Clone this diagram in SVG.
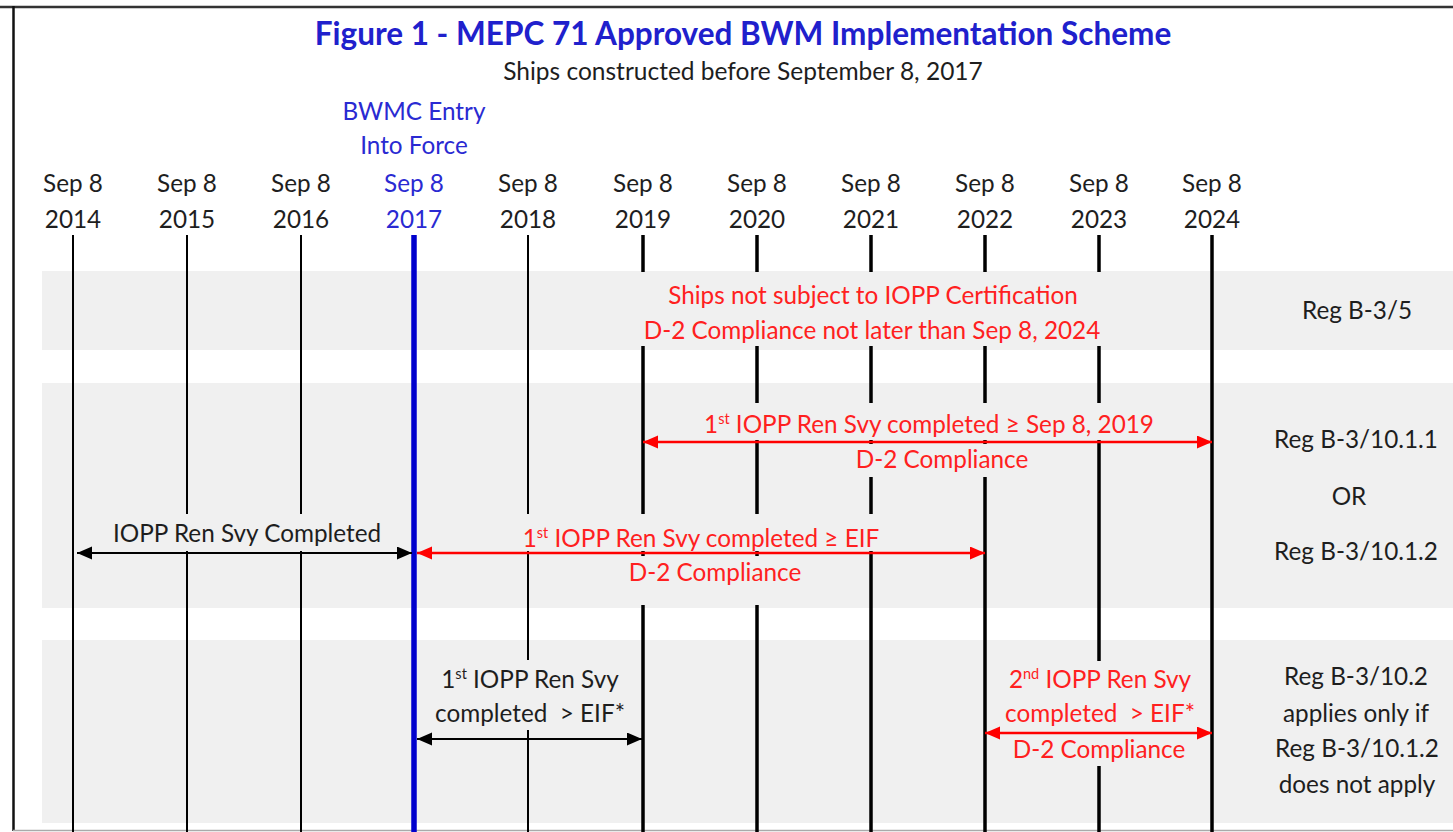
<svg xmlns="http://www.w3.org/2000/svg" width="1453" height="832" viewBox="0 0 1453 832">
  <style>
    text { font-family: Lato, "Liberation Sans", sans-serif; font-size: 24.3px; fill: #1e1e1e; text-anchor: middle; }
    .title { font-size: 31.5px; font-weight: bold; fill: #2020cc; }
    .sub { font-size: 24.5px; }
    .blue { fill: #2a2ad2; }
    .red { fill: #ff2020; }
    .sup { font-size: 14.5px; }
    .band { fill: #f0f0f0; }
    .mask { fill: #f0f0f0; }
    .yr { stroke: #000; stroke-width: 2; }
    .yrb { stroke: #000; stroke-width: 3.5; }
    .eif { stroke: #0000cd; stroke-width: 5.5; }
    .arr-k { stroke: #000; stroke-width: 2.2; fill: none; marker-start: url(#headK); marker-end: url(#headK); }
    .arr-r { stroke: #ff0000; stroke-width: 2.6; fill: none; marker-start: url(#headR); marker-end: url(#headR); }
  </style>
  <defs>
    <marker id="headK" markerUnits="userSpaceOnUse" markerWidth="16" markerHeight="14" refX="15" refY="6.5" orient="auto-start-reverse">
      <path d="M0,0 L15,6.5 L0,13 z" fill="#000"/>
    </marker>
    <marker id="headR" markerUnits="userSpaceOnUse" markerWidth="16" markerHeight="14" refX="15" refY="6.5" orient="auto-start-reverse">
      <path d="M0,0 L15,6.5 L0,13 z" fill="#ff0000"/>
    </marker>
  </defs>

  <rect width="1453" height="832" fill="#fff"/>

  <!-- frame -->
  <g id="frame">
    <line x1="0" y1="7" x2="1453" y2="7" stroke="#333" stroke-width="2.5"/>
    <line x1="13.5" y1="6" x2="13.5" y2="831" stroke="#111" stroke-width="2.5"/>
    <line x1="13" y1="830.5" x2="1453" y2="830.5" stroke="#aaa" stroke-width="1.5"/>
  </g>

  <!-- title -->
  <g id="title">
    <text class="title" x="743" y="45">Figure 1 - MEPC 71 Approved BWM Implementation Scheme</text>
    <text class="sub" x="743" y="80">Ships constructed before September 8, 2017</text>
  </g>

  <!-- shaded regulation bands -->
  <g id="bands">
    <rect class="band" x="42" y="271" width="1411" height="79"/>
    <rect class="band" x="42" y="383" width="1411" height="225"/>
    <rect class="band" x="42" y="640" width="1411" height="183"/>
  </g>

  <!-- year columns -->
  <g id="year-labels">
    <g id="y2014"><text x="73" y="192">Sep 8</text><text x="73" y="228">2014</text></g>
    <g id="y2015"><text x="187" y="192">Sep 8</text><text x="187" y="228">2015</text></g>
    <g id="y2016"><text x="301" y="192">Sep 8</text><text x="301" y="228">2016</text></g>
    <g id="y2017">
      <text class="blue" x="414" y="120">BWMC Entry</text>
      <text class="blue" x="414" y="154">Into Force</text>
      <text class="blue" x="414" y="192">Sep 8</text>
      <text class="blue" x="414" y="228">2017</text>
    </g>
    <g id="y2018"><text x="528" y="192">Sep 8</text><text x="528" y="228">2018</text></g>
    <g id="y2019"><text x="643" y="192">Sep 8</text><text x="643" y="228">2019</text></g>
    <g id="y2020"><text x="757" y="192">Sep 8</text><text x="757" y="228">2020</text></g>
    <g id="y2021"><text x="871" y="192">Sep 8</text><text x="871" y="228">2021</text></g>
    <g id="y2022"><text x="985" y="192">Sep 8</text><text x="985" y="228">2022</text></g>
    <g id="y2023"><text x="1099" y="192">Sep 8</text><text x="1099" y="228">2023</text></g>
    <g id="y2024"><text x="1212" y="192">Sep 8</text><text x="1212" y="228">2024</text></g>
  </g>

  <g id="timelines">
    <line class="yr" x1="73" y1="235" x2="73" y2="832"/>
    <line class="yr" x1="187" y1="235" x2="187" y2="832"/>
    <line class="yr" x1="301" y1="235" x2="301" y2="832"/>
    <line class="yr" x1="528" y1="235" x2="528" y2="832"/>
    <line class="yrb" x1="643" y1="235" x2="643" y2="832"/>
    <line class="yrb" x1="757" y1="235" x2="757" y2="832"/>
    <line class="yrb" x1="871" y1="235" x2="871" y2="832"/>
    <line class="yrb" x1="985" y1="235" x2="985" y2="832"/>
    <line class="yrb" x1="1099" y1="235" x2="1099" y2="832"/>
    <line class="yrb" x1="1212" y1="235" x2="1212" y2="832"/>
    <line class="eif" x1="414" y1="235" x2="414" y2="832"/>
  </g>

  <!-- label backings that sit over the timelines -->
  <g id="label-backings">
    <rect class="mask" x="560" y="272" width="630" height="74"/>
    <rect class="mask" x="665" y="403" width="525" height="37"/>
    <rect class="mask" x="800" y="444" width="260" height="33"/>
    <rect class="mask" x="90" y="514" width="310" height="37"/>
    <rect class="mask" x="430" y="514" width="540" height="37"/>
    <rect class="mask" x="560" y="556" width="270" height="49"/>
    <rect class="mask" x="430" y="660" width="200" height="70"/>
    <rect class="mask" x="995" y="661" width="205" height="105"/>
  </g>

  <g id="connectors">
    <line class="arr-r" x1="643" y1="442" x2="1212" y2="442"/>
    <line class="arr-k" x1="77" y1="553" x2="412" y2="553"/>
    <line class="arr-r" x1="417" y1="553" x2="985" y2="553"/>
    <line class="arr-k" x1="417" y1="739" x2="642" y2="739"/>
    <line class="arr-r" x1="985" y1="733" x2="1212" y2="733"/>
  </g>

  <g id="reg-b35">
    <text class="red" x="873" y="304">Ships not subject to IOPP Certification</text>
    <text class="red" x="872" y="339">D-2 Compliance not later than Sep 8, 2024</text>
  </g>

  <g id="reg-b3-1011">
    <text class="red" x="929" y="433">1<tspan class="sup" dy="-9">st</tspan><tspan dy="9"> IOPP Ren Svy completed ≥ Sep 8, 2019</tspan></text>
    <text class="red" x="942" y="468">D-2 Compliance</text>
  </g>

  <g id="ren-svy-completed">
    <text x="247" y="542">IOPP Ren Svy Completed</text>
  </g>

  <g id="reg-b3-1012">
    <text class="red" x="701" y="547">1<tspan class="sup" dy="-9">st</tspan><tspan dy="9"> IOPP Ren Svy completed ≥ EIF</tspan></text>
    <text class="red" x="715" y="581">D-2 Compliance</text>
  </g>

  <g id="first-ren-svy">
    <text x="530" y="688">1<tspan class="sup" dy="-9">st</tspan><tspan dy="9"> IOPP Ren Svy</tspan></text>
    <text x="530" y="722" xml:space="preserve">completed  &gt; EIF*</text>
  </g>

  <g id="second-ren-svy">
    <text class="red" x="1100" y="688">2<tspan class="sup" dy="-9">nd</tspan><tspan dy="9"> IOPP Ren Svy</tspan></text>
    <text class="red" x="1100" y="722" xml:space="preserve">completed  &gt; EIF*</text>
    <text class="red" x="1099" y="758">D-2 Compliance</text>
  </g>

  <g id="regulations">
    <text x="1357" y="319">Reg B-3/5</text>
    <text x="1356" y="448">Reg B-3/10.1.1</text>
    <text x="1349" y="505">OR</text>
    <text x="1356" y="560">Reg B-3/10.1.2</text>
    <text x="1356" y="685">Reg B-3/10.2</text>
    <text x="1356" y="722">applies only if</text>
    <text x="1357" y="757">Reg B-3/10.1.2</text>
    <text x="1357" y="793">does not apply</text>
  </g>
</svg>
